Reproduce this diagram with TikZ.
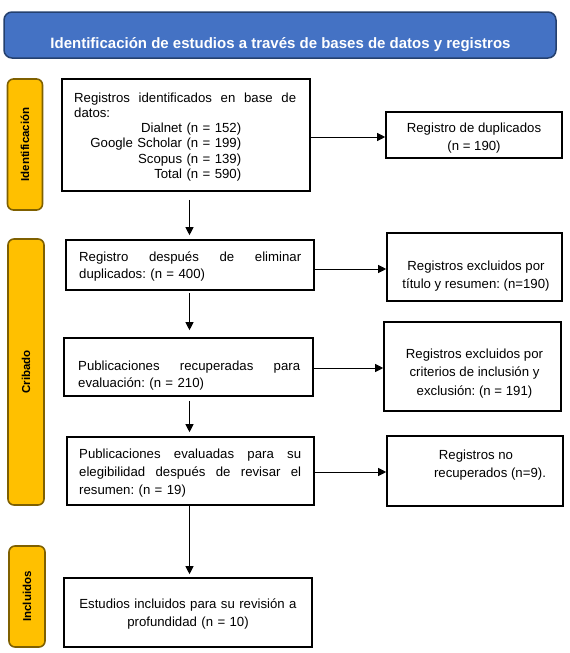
\documentclass[tikz,border=0pt]{standalone}
\usepackage{fontspec}
\setmainfont{Liberation Sans}
\usetikzlibrary{arrows.meta}
\definecolor{hdrblue}{HTML}{4472C4}
\definecolor{hdrline}{HTML}{24406E}
\definecolor{phasefill}{HTML}{FFC000}
\definecolor{phaseline}{HTML}{7F6000}
\newcommand{\jline}[1]{\makebox[222pt][l]{#1}}
\tikzset{
  hdrbox/.style={draw=hdrline, fill=hdrblue, line width=1.5pt, rounded corners=8pt, inner sep=0pt},
  hdrtxt/.style={inner sep=0pt, text=white, font=\fontsize{15}{18}\selectfont\bfseries},
  phasebox/.style={draw=phaseline, fill=phasefill, line width=1.6pt, rounded corners=6pt, inner sep=0pt, rotate=90, font=\fontsize{11.5}{14}\selectfont\bfseries},
  flowbox/.style={draw, line width=1.6pt, inner sep=0pt},
  txt/.style={inner sep=0pt, font=\fontsize{13.2}{#1}\selectfont\frenchspacing},
  txt/.default=18.2,
  arr/.style={line width=1pt, -{Triangle[length=8pt,width=8pt]}}
}
\begin{document}
\begin{tikzpicture}[x=1pt,y=-1pt]
\useasboundingbox (0,0) rectangle (570,653);
% header
\node[hdrbox, minimum width=552pt, minimum height=46pt] (hdr) at (280,35) {};
\node[hdrtxt, anchor=base] (hdrt) at (280.5,48.5) {Identificación de estudios a través de bases de datos y registros};
% phases
\node[phasebox, minimum width=131pt, minimum height=35pt] (pid) at (25,144.5) {Identificación};
\node[phasebox, minimum width=266pt, minimum height=36pt] (pcr) at (26,372) {Cribado};
\node[phasebox, minimum width=101pt, minimum height=36pt] (pin) at (27,596.5) {Incluidos};
% main column boxes
\node[flowbox, minimum width=248pt, minimum height=112pt] (b1) at (186,135) {};
\node[txt=15.2, anchor=north west, text width=222pt, align=left] (t1) at (74,92.6)
  {\jline{Registros\hfill identificados\hfill en\hfill base\hfill de}\\
   datos:\\
   \jline{\hfill Dialnet (n = 152)\hspace{55pt}}\\
   \jline{\hfill Google Scholar (n = 199)\hspace{55pt}}\\
   \jline{\hfill Scopus (n = 139)\hspace{55pt}}\\
   \jline{\hfill Total (n = 590)\hspace{55pt}}};
\node[flowbox, minimum width=248pt, minimum height=50pt] (b3) at (190,265) {};
\node[txt=17, anchor=north west, text width=222pt, align=left] (t3) at (79,251.6)
  {\jline{Registro\hfill después\hfill de\hfill eliminar}\\
   duplicados: (n = 400)};
\node[flowbox, minimum width=249pt, minimum height=58pt] (b4) at (188.5,367) {};
\node[txt=17, anchor=north west, text width=222pt, align=left] (t4) at (78,360.6)
  {\jline{Publicaciones\hfill recuperadas\hfill para}\\
   evaluación: (n = 210)};
\node[flowbox, minimum width=247pt, minimum height=68pt] (b5) at (190.5,471) {};
\node[txt=18.3, anchor=north west, text width=222pt, align=left] (t5) at (79,448.3)
  {\jline{Publicaciones\hfill evaluadas\hfill para\hfill su}\\
   \jline{elegibilidad\hfill después\hfill de\hfill revisar\hfill el}\\
   resumen: (n = 19)};
\node[flowbox, minimum width=248pt, minimum height=69pt] (b6) at (188,612.5) {};
\node[txt=18.3, anchor=north, text width=222pt, align=center] (t6) at (188,598.3)
  {Estudios incluidos para su revisión a\\ profundidad (n = 10)};
% side boxes
\node[flowbox, minimum width=176pt, minimum height=46pt] (dup) at (474,135) {};
\node[txt=18.3, anchor=north, align=center] (tdup) at (474,122.3)
  {Registro de duplicados\\(n = 190)};
\node[flowbox, minimum width=175pt, minimum height=68pt] (exa) at (474.5,267) {};
\node[txt=18, anchor=north, align=center] (texa) at (476,260.6)
  {Registros excluidos por\\título y resumen: (n=190)};
\node[flowbox, minimum width=177pt, minimum height=89pt] (exb) at (472.5,366.5) {};
\node[txt=18.3, anchor=north, align=center] (texb) at (474.5,348.9)
  {Registros excluidos por\\criterios de inclusión y\\exclusión: (n = 191)};
\node[flowbox, minimum width=176pt, minimum height=70pt] (exc) at (475,471) {};
\node[txt=18, anchor=north, align=center] (texc) at (490,449.6)
  {Registros no\hspace*{28pt}\\recuperados (n=9).};
% connectors
\coordinate (axis) at (189.5,0);
\draw[arr, shorten <=8pt, shorten >=4pt] (b1.south -| axis) -- (b3.north -| axis);
\draw[arr, shorten <=2pt, shorten >=7pt] (b3.south -| axis) -- (b4.north -| axis);
\draw[arr, shorten <=4pt, shorten >=4pt] (b4.south -| axis) -- (b5.north -| axis);
\draw[arr, shorten >=3pt] (b5.south -| axis) -- (b6.north -| axis);
\draw[arr] ([yshift=-2pt]b1.east) -- ([yshift=-2pt]b1.east -| dup.west);
\draw[arr] ([yshift=-4pt]b3.east) -- ([yshift=-4pt]b3.east -| exa.west);
\draw[arr] ([yshift=-1pt]b4.east) -- ([yshift=-1pt]b4.east -| exb.west);
\draw[arr] ([yshift=-1pt]b5.east) -- ([yshift=-1pt]b5.east -| exc.west);
\end{tikzpicture}
\end{document}
